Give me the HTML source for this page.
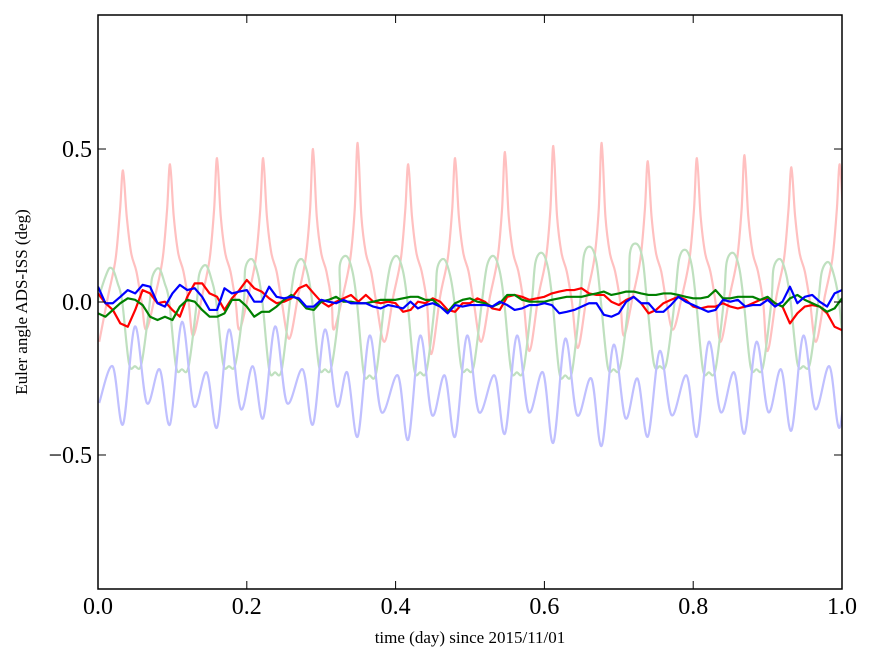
<!DOCTYPE html>
<html><head><meta charset="utf-8">
<style>
html,body{margin:0;padding:0;background:#fff;}
svg{display:block;font-family:"Liberation Serif",serif;}
</style></head>
<body>
<svg id="chart" width="875" height="662" viewBox="0 0 875 662" xmlns="http://www.w3.org/2000/svg">
<defs><clipPath id="clip"><rect x="98" y="15" width="744" height="574"/></clipPath></defs>
<rect x="0" y="0" width="875" height="662" fill="#fff"/>
<g id="series" clip-path="url(#clip)"></g>
<rect x="98" y="15" width="744" height="574" fill="none" stroke="#000" stroke-width="1.5"/>
<g id="axes"></g>
<text x="470" y="643" font-size="17" text-anchor="middle">time (day) since 2015/11/01</text>
<text x="0" y="0" font-size="17" text-anchor="middle" transform="translate(27,302) rotate(-90)">Euler angle ADS-ISS (deg)</text>
</svg>
<script>
// ---- data ----
const xTicks = [0, 0.2, 0.4, 0.6, 0.8, 1.0];
const xTickLabels = ["0.0", "0.2", "0.4", "0.6", "0.8", "1.0"];
const yTicks = [-0.5, 0, 0.5];
const yTickLabels = ["\u22120.5", "0.0", "0.5"];

// orbital cycle peak times (day), read from faint red spikes
const peakT = [0.0336,0.0968,0.160,0.222,0.289,0.349,0.417,0.480,0.547,0.612,0.677,0.739,0.805,0.869,0.932,0.997];
const redPeakV = [0.43,0.45,0.47,0.47,0.50,0.52,0.45,0.47,0.49,0.51,0.52,0.46,0.47,0.48,0.44,0.45];
const redTroughV = [-0.13,-0.09,-0.11,-0.09,-0.12,-0.09,-0.13,-0.17,-0.13,-0.16,-0.15,-0.11,-0.09,-0.13,-0.16,-0.13];
const greenPeakV = [0.11,0.11,0.12,0.14,0.14,0.15,0.15,0.14,0.15,0.16,0.18,0.19,0.17,0.16,0.14,0.13];
const greenTroughV = [-0.21,-0.22,-0.21,-0.23,-0.22,-0.24,-0.23,-0.22,-0.23,-0.24,-0.22,-0.21,-0.23,-0.22,-0.21,-0.22];
const blueDeepV = [-0.40,-0.40,-0.41,-0.38,-0.40,-0.44,-0.45,-0.44,-0.43,-0.46,-0.47,-0.44,-0.44,-0.43,-0.42,-0.41];
const blueMainV = [-0.08,-0.065,-0.09,-0.08,-0.09,-0.11,-0.11,-0.11,-0.11,-0.12,-0.14,-0.16,-0.13,-0.13,-0.11,-0.09];
const blueShallowV = [-0.33,-0.34,-0.35,-0.33,-0.34,-0.36,-0.37,-0.36,-0.36,-0.37,-0.38,-0.37,-0.36,-0.36,-0.35,-0.35];
const blueSecV = [-0.21,-0.22,-0.23,-0.21,-0.22,-0.23,-0.24,-0.24,-0.24,-0.23,-0.25,-0.25,-0.24,-0.23,-0.22,-0.21];

// solid series sampled every 0.01 day from 0.00 to 1.00
const redSolid = [.028,-.004,-.026,-.07,-.081,-.026,.039,.028,-.004,.001,-.026,-.048,.017,.061,.061,.028,.017,-.026,.012,.039,.072,.045,.034,.012,-.004,.001,.012,.045,.056,.028,.001,-.015,.001,.012,.023,.001,.023,.001,-.004,.001,-.004,-.032,-.026,.001,-.004,.012,.001,-.026,-.032,-.004,-.004,
 .012,.001,-.021,-.026,.017,.023,.017,.007,.012,.017,.028,.034,.039,.039,.045,.028,.023,.023,.001,-.01,.007,.017,-.004,-.037,-.026,-.004,.007,.017,.007,-.015,-.021,-.015,-.015,-.004,-.015,-.021,-.015,-.004,.007,.012,-.004,-.015,-.07,-.037,-.015,-.01,-.015,-.037,-.081,-.092];
const greenSolid = [-.037,-.048,-.026,-.004,.012,.007,-.01,-.048,-.059,-.048,-.059,-.015,.007,.001,-.026,-.048,-.048,-.037,.007,.007,-.015,-.048,-.032,-.032,-.015,.007,.023,.007,-.021,-.026,.001,.007,.017,.001,.001,-.004,-.004,.001,.007,.007,.007,.012,.017,.017,.007,.007,-.015,-.032,-.004,.007,.012,
 .001,-.004,-.015,-.004,.023,.023,.007,.001,.001,.001,.007,.012,.017,.017,.017,.023,.028,.034,.023,.028,.034,.034,.028,.023,.023,.028,.028,.023,.017,.012,.012,.017,.039,.012,.012,.017,.017,.017,.007,.017,-.004,-.015,.012,.023,.007,-.004,-.015,-.032,-.021,.012];
const blueSolid = [.05,-.004,-.004,.017,.039,.028,.056,.05,-.004,-.015,.028,.056,.039,.045,.017,-.026,-.026,.045,.028,.034,.039,.001,.001,.05,.017,.012,.017,.012,-.015,-.015,.007,.001,-.004,.007,-.004,-.004,-.004,-.015,-.021,-.01,-.015,-.021,.001,-.021,-.01,-.004,-.015,-.037,-.01,-.015,-.01,
 -.01,-.01,-.015,.001,-.01,-.026,-.021,-.01,-.01,-.004,-.01,-.037,-.032,-.026,-.015,-.004,-.004,-.042,-.048,-.037,.001,.017,-.004,-.004,-.032,-.032,-.01,.017,.001,-.01,-.021,-.032,-.026,.007,.001,.007,-.015,-.01,-.01,.007,-.015,.001,.05,-.004,.017,.023,.001,-.015,.028,.039];

// ---- axes ----
const X0=98, X1=842, Y0=589, Y1=15, YMIN=-0.938, YMAX=0.938;
function xs(t){ return X0 + (t-0)/(1-0)*(X1-X0); }
function ys(v){ return Y0 - (v-YMIN)/(YMAX-YMIN)*(Y0-Y1); }

const NS="http://www.w3.org/2000/svg";
const series=document.getElementById('series');
const axes=document.getElementById('axes');

function smoothPath(pts){
  let d="M"+pts[0][0].toFixed(2)+","+pts[0][1].toFixed(2);
  for(let i=0;i<pts.length-1;i++){
    const p0=pts[Math.max(0,i-1)],p1=pts[i],p2=pts[i+1],p3=pts[Math.min(pts.length-1,i+2)];
    const c1x=p1[0]+(p2[0]-p0[0])/6,c1y=p1[1]+(p2[1]-p0[1])/6;
    const c2x=p2[0]-(p3[0]-p1[0])/6,c2y=p2[1]-(p3[1]-p1[1])/6;
    d+=" C"+c1x.toFixed(2)+","+c1y.toFixed(2)+" "+c2x.toFixed(2)+","+c2y.toFixed(2)+" "+p2[0].toFixed(2)+","+p2[1].toFixed(2);
  }
  return d;
}
function linePath(pts){
  return "M"+pts.map(p=>p[0].toFixed(2)+","+p[1].toFixed(2)).join(" L");
}
function addPath(d,color,w,name){
  const p=document.createElementNS(NS,'path');
  p.setAttribute('d',d);p.setAttribute('fill','none');p.setAttribute('stroke',color);
  p.setAttribute('stroke-width',w);p.setAttribute('stroke-linejoin','round');
  
  
  series.appendChild(p);
}

// faint red
let rp=[];
for(let k=0;k<peakT.length;k++){
  const tp=peakT[k], pv=redPeakV[k], tv=redTroughV[k];
  rp.push([tp-0.032,tv],[tp-0.02,0.02],[tp-0.01,0.14],[tp-0.004,0.3],[tp,pv],[tp+0.005,0.28],[tp+0.011,0.16],[tp+0.018,0.1],[tp+0.025,0.0]);
}
addPath(smoothPath(rp.map(p=>[xs(p[0]),ys(p[1])])),'#ffc0c0',2.2,'series-roll-ads-faint');

// faint green
let gp=[[xs(peakT[0]-0.05),ys(-0.12)]];
for(let k=0;k<peakT.length;k++){
  const tp=peakT[k], gv=greenPeakV[k], tv=greenTroughV[k];
  gp.push([xs(tp-0.024),ys(gv-0.03)],[xs(tp-0.015),ys(gv)],[xs(tp-0.007),ys(gv-0.05)],[xs(tp-0.001),ys(0)],
          [xs(tp+0.008),ys(tv+0.01)],[xs(tp+0.016),ys(tv)],[xs(tp+0.025),ys(tv+0.01)],[xs(tp+0.036),ys(0)]);
}
addPath(smoothPath(gp),'#bfe0bf',2.2,'series-pitch-ads-faint');

// faint blue
let bp=[[xs(peakT[0]-0.032),ys(blueShallowV[0])]];
for(let k=0;k<peakT.length;k++){
  const tp=peakT[k];
  bp.push([xs(tp-0.014),ys(blueSecV[k])],[xs(tp),ys(blueDeepV[k])],[xs(tp+0.016),ys(blueMainV[k])],[xs(tp+0.032),ys(blueShallowV[k])]);
}
addPath(smoothPath(bp),'#c0c0ff',2.2,'series-yaw-ads-faint');

function solid(arr,color,name){
  const pts=arr.map((v,i)=>[xs(i*0.01),ys(v)]);
  addPath(linePath(pts),color,2.2,name);
}
solid(redSolid,'#ff0000','series-roll-diff');
solid(greenSolid,'#008000','series-pitch-diff');
solid(blueSolid,'#0000ff','series-yaw-diff');

// ticks & labels
xTicks.forEach((t,i)=>{
  const x=xs(t);
  [[Y0,Y0-8],[Y1,Y1+8]].forEach(a=>{
    const l=document.createElementNS(NS,'line');
    l.setAttribute('x1',x);l.setAttribute('x2',x);l.setAttribute('y1',a[0]);l.setAttribute('y2',a[1]);
    l.setAttribute('stroke','#000');l.setAttribute('stroke-width','1');
    
    
    axes.appendChild(l);
  });
  const tx=document.createElementNS(NS,'text');
  tx.setAttribute('x',x);tx.setAttribute('y',614);tx.setAttribute('font-size','24');tx.setAttribute('text-anchor','middle');
  tx.textContent=xTickLabels[i];
  
  
  axes.appendChild(tx);
});
yTicks.forEach((v,i)=>{
  const y=ys(v);
  [[X0,X0+8],[X1,X1-8]].forEach(a=>{
    const l=document.createElementNS(NS,'line');
    l.setAttribute('x1',a[0]);l.setAttribute('x2',a[1]);l.setAttribute('y1',y);l.setAttribute('y2',y);
    l.setAttribute('stroke','#000');l.setAttribute('stroke-width','1');
    
    
    axes.appendChild(l);
  });
  const tx=document.createElementNS(NS,'text');
  tx.setAttribute('x',92);tx.setAttribute('y',y+8);tx.setAttribute('font-size','24');tx.setAttribute('text-anchor','end');
  tx.textContent=yTickLabels[i];
  
  
  axes.appendChild(tx);
});
</script>
</body></html>
